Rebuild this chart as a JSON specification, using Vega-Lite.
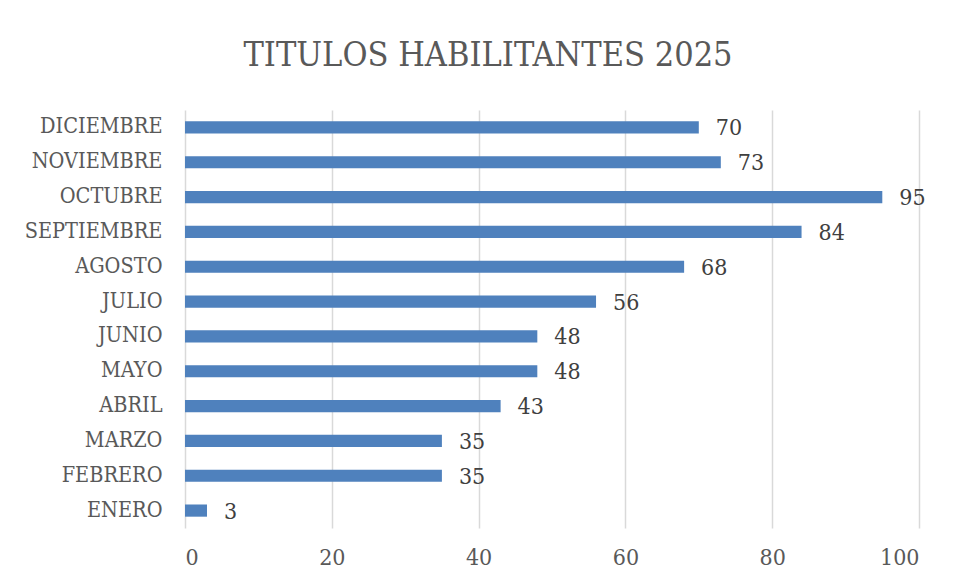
{
  "$schema": "https://vega.github.io/schema/vega-lite/v6.json",
  "width": 734,
  "height": 418,
  "autosize": {"type": "none"},
  "padding": {"left": 185, "top": 110, "right": 37, "bottom": 50},
  "background": "white",
  "title": {
    "text": "TITULOS HABILITANTES 2025",
    "font": "DejaVu Serif Condensed",
    "fontSize": 34,
    "fontWeight": "normal",
    "color": "#595959",
    "anchor": "middle",
    "dx": -64,
    "offset": 37
  },
  "data": {
    "values": [
      {"mes": "ENERO", "valor": 3},
      {"mes": "FEBRERO", "valor": 35},
      {"mes": "MARZO", "valor": 35},
      {"mes": "ABRIL", "valor": 43},
      {"mes": "MAYO", "valor": 48},
      {"mes": "JUNIO", "valor": 48},
      {"mes": "JULIO", "valor": 56},
      {"mes": "AGOSTO", "valor": 68},
      {"mes": "SEPTIEMBRE", "valor": 84},
      {"mes": "OCTUBRE", "valor": 95},
      {"mes": "NOVIEMBRE", "valor": 73},
      {"mes": "DICIEMBRE", "valor": 70}
    ]
  },
  "encoding": {
    "y": {
      "field": "mes",
      "type": "nominal",
      "sort": ["DICIEMBRE", "NOVIEMBRE", "OCTUBRE", "SEPTIEMBRE", "AGOSTO", "JULIO", "JUNIO", "MAYO", "ABRIL", "MARZO", "FEBRERO", "ENERO"],
      "scale": {"paddingInner": 0.65, "paddingOuter": 0.325},
      "axis": {
        "title": null,
        "ticks": false,
        "domain": false,
        "labelFont": "DejaVu Serif Condensed",
        "labelFontSize": 21.5,
        "labelColor": "#595959",
        "labelPadding": 23
      }
    },
    "x": {
      "field": "valor",
      "type": "quantitative",
      "scale": {"domain": [0, 100]},
      "axis": {
        "title": null,
        "values": [0, 20, 40, 60, 80, 100],
        "ticks": false,
        "domain": false,
        "grid": true,
        "gridColor": "#d9d9d9",
        "gridWidth": 1.5,
        "labelFont": "DejaVu Serif Condensed",
        "labelFontSize": 23,
        "labelColor": "#595959",
        "labelPadding": 18
      }
    }
  },
  "layer": [
    {"mark": {"type": "bar", "color": "#4f81bd"}},
    {
      "mark": {"type": "text", "align": "left", "dx": 17, "dy": 1, "font": "DejaVu Serif Condensed", "fontSize": 23, "color": "#404040"},
      "encoding": {"text": {"field": "valor", "type": "quantitative"}}
    }
  ],
  "config": {"view": {"stroke": null}}
}
